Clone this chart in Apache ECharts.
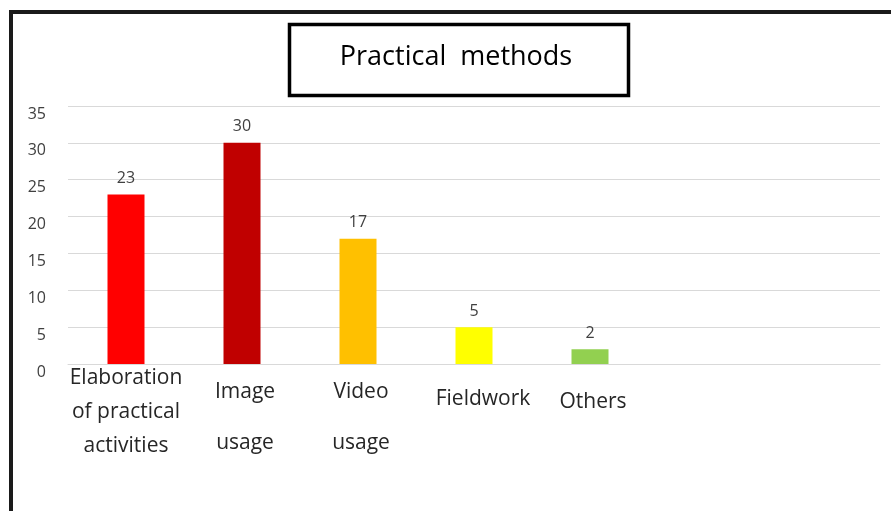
<!DOCTYPE html>
<html>
<head>
<meta charset="utf-8">
<script src="https://cdn.jsdelivr.net/npm/echarts@6/dist/echarts.min.js"></script>
<style>
  html, body { margin: 0; padding: 0; background: #ffffff; }
  #chart { width: 891px; height: 511px; }
</style>
</head>
<body>
<div id="chart"></div>
<script>
// Survey answers: practical methods used
const categories = ['Elaboration\nof practical\nactivities', 'Image\nusage', 'Video\nusage', 'Fieldwork', 'Others', '', ''];
const counts = [23, 30, 17, 5, 2, null, null];
const barColors = ['#FF0000', '#C00000', '#FFC000', '#FFFF00', '#92D050', '#FFFFFF', '#FFFFFF'];
const yTicks = [0, 5, 10, 15, 20, 25, 30, 35];
const titleText = 'Practical  methods';

const FONT = '"Open Sans", "Noto Sans", sans-serif';

// per-label vertical layout of the wrapped category names
const labelLayout = [
  { lineHeight: 34, padding: [0, 0, 0, 0] },
  { lineHeight: 51, padding: [6, 0, 0, 6] },
  { lineHeight: 51, padding: [6, 0, 0, 6] },
  { lineHeight: 34, padding: [21, 0, 0, 18] },
  { lineHeight: 34, padding: [24, 0, 0, 6] },
  { lineHeight: 34, padding: [0, 0, 0, 0] },
  { lineHeight: 34, padding: [0, 0, 0, 0] }
];

const chart = echarts.init(document.getElementById('chart'));

chart.setOption({
  backgroundColor: '#ffffff',
  animation: false,
  grid: { left: 68, right: 11, top: 106, bottom: 147 },
  xAxis: {
    type: 'category',
    data: categories.map((c, i) => ({
      value: c,
      textStyle: { lineHeight: labelLayout[i].lineHeight, padding: labelLayout[i].padding }
    })),
    axisLine: { show: true, lineStyle: { color: '#d9d9d9', width: 1 } },
    axisTick: { show: false },
    axisLabel: {
      interval: 0,
      margin: -3,
      color: '#262626',
      fontFamily: FONT,
      fontSize: 21
    }
  },
  yAxis: {
    type: 'value',
    min: yTicks[0],
    max: yTicks[yTicks.length - 1],
    interval: yTicks[1] - yTicks[0],
    axisLine: { show: false },
    axisTick: { show: false },
    splitLine: { lineStyle: { color: '#d9d9d9', width: 1 } },
    axisLabel: {
      margin: 22,
      color: '#404040',
      fontFamily: FONT,
      fontSize: 16,
      verticalAlign: 'top'
    }
  },
  series: [{
    type: 'bar',
    barWidth: 37,
    data: counts.map((v, i) => ({ value: v, itemStyle: { color: barColors[i] } })),
    label: {
      show: true,
      position: 'top',
      distance: 8,
      color: '#404040',
      fontFamily: FONT,
      fontSize: 16
    }
  }],
  graphic: [
    // outer frame: top and left edges
    { type: 'rect', shape: { x: 9, y: 10, width: 882, height: 4 }, style: { fill: '#1a1a1a' } },
    { type: 'rect', shape: { x: 9, y: 10, width: 4, height: 501 }, style: { fill: '#1a1a1a' } },
    // boxed title
    { type: 'rect', shape: { x: 289.5, y: 24.5, width: 339, height: 71 },
      style: { fill: '#ffffff', stroke: '#000000', lineWidth: 3.5 } },
    { type: 'text', x: 456, y: 57,
      style: { text: titleText, fill: '#000000', font: '27px ' + FONT,
               textAlign: 'center', textVerticalAlign: 'middle' } }
  ]
});
</script>
</body>
</html>
